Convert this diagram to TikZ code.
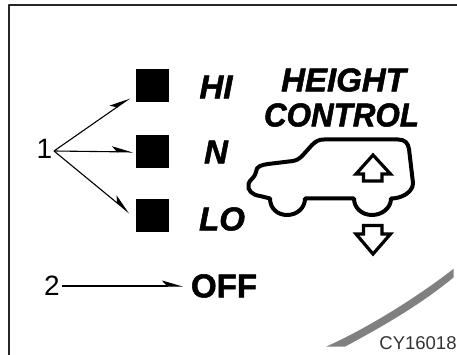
\documentclass[tikz,border=0pt]{standalone}
\usepackage{fontspec}
\setmainfont{Liberation Sans}
\newfontfamily\heavyfont[BoldFeatures={FakeBold=1.6},BoldItalicFeatures={FakeBold=1.6}]{Liberation Sans}
\usetikzlibrary{arrows.meta}
\tikzset{
	lamp/.style={draw=none,fill=black,minimum size=33,inner sep=0},
	mode/.style={font=\fontsize{33}{33}\heavyfont\bfseries\itshape,inner sep=0},
	plain/.style={font=\fontsize{33}{33}\heavyfont\bfseries,inner sep=0},
	num/.style={font=\fontsize{28}{28}\selectfont,inner sep=0},
	pointer/.style={line width=1.1,-{Stealth[harpoon,length=19,width=11,inset=5]}},
	symbol/.style={line width=3.2,miter limit=10,line join=miter},
}
\begin{document}
\begin{tikzpicture}[x=1pt,y=-1pt,line join=round]
	\useasboundingbox(0,0) rectangle (457,355);
	\draw[line width=1.5,draw=black!85](9,355)--(9,5)--(457,5);
	\node[lamp](hi)at(152.5,86){};
	\node[lamp](n)at(152.5,152){};
	\node[lamp](lo)at(152.5,215.5){};
	\node[mode](hitext)at(216,87){HI};
	\node[mode](ntext)at(216,152){N};
	\node[mode](lotext)at(222,219){LO};
	\node[plain](off)at(224,286){OFF};
	\node[num](one)at(44.5,149){1};
	\node[num](two)at(52,286){2};
	\coordinate(fork)at(54,151);
	\draw[pointer](fork)--([xshift=-6,yshift=4.5]hi.south west);
	\draw[pointer](fork)--([xshift=-3]n.west);
	\draw[pointer](fork)--([xshift=-6.5,yshift=2.5]lo.west);
	\draw[pointer,shorten >=8](two)++(10,0)--(off);
	\node[mode](height)at(343.5,80){HEIGHT};
	\node[mode,xscale=.95](control)at(341.5,115){CONTROL};
	% car outline
	\draw[line width=4,line cap=round](324,139.5)--(398,139.5)
		..controls (405,139.5) and (408,143) .. (409,149)
		--(413,183)..controls (413,192) and (402,198.5) .. (391,198.5)
		..controls (391,208) and (382,215) .. (372,215)
		..controls (362,215) and (354,208) .. (354,198.5)
		--(305,198.5)..controls (305,208) and (297,215) .. (287,215)
		..controls (277,215) and (270,208) .. (270,198.5)
		--(260,196)..controls (252,195) and (247,190) .. (248.5,184)
		..controls (249,180) and (255,178) .. (256,172)
		..controls (256,166) and (262,165) .. (268,164)
		--(293,161)..controls (298,160) and (300,158) .. (303,155)
		--(312,145)..controls (316,141) and (319,139.5) .. (324,139.5);
	% arrows
	\draw[symbol](356,174)--(373,155)--(390.5,174)--(382,174)--(382,181)--(363.5,181)--(363.5,174)--cycle;
	\draw[symbol](363.5,225.5)--(382,225.5)--(382,234)--(390.5,234)--(373,254)--(356,234)--(363.5,234)--cycle;
	% swoosh
	\fill[black!50](326,346.7)..controls (370,327) and (420,295) .. (453.7,268.7)--(453.7,277.3)
		..controls (420,305) and (385,325) .. (345.3,346.5)--cycle;
	\node[inner sep=0,font=\fontsize{18.5}{18.5}\selectfont,text=black!80](code)at(418,343){CY16018};
\end{tikzpicture}
\end{document}
